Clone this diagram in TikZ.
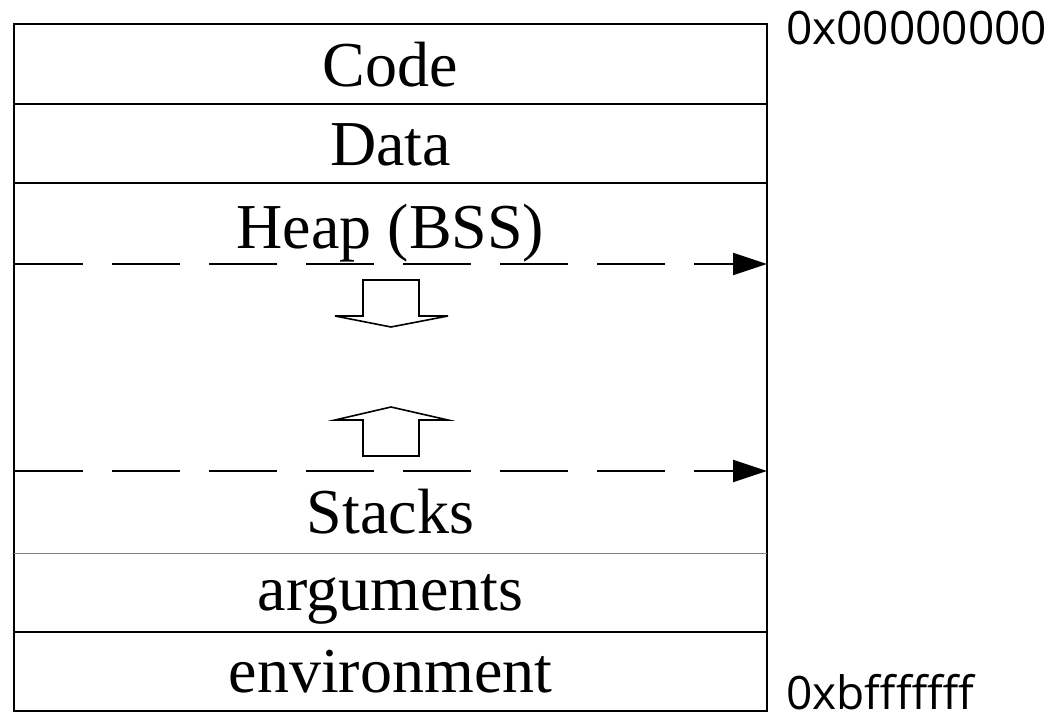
\documentclass[tikz,border=0pt]{standalone}
\usepackage{fontspec}
\setmainfont{Liberation Serif}
\newfontfamily\hexfont{Open Sans}
\usetikzlibrary{arrows.meta}
\begin{document}
\begin{tikzpicture}[x=1pt,y=-1pt,
  frame/.style={line width=2pt,draw=black},
  divider/.style={line width=2pt,draw=black},
  thindivider/.style={line width=1pt,draw=black!50},
  seg/.style={font=\fontsize{64}{72}\selectfont,anchor=base,inner sep=0pt},
  addr/.style={font=\hexfont\fontsize{46}{52}\selectfont,anchor=base west,inner sep=0pt},
  boundary/.style={line width=2pt,dash pattern=on 68pt off 29pt,dash phase=0pt},
  boundarytip/.style={line width=2pt,-{Triangle[length=34pt,width=22pt]}},
  growth/.style={line width=1.6pt,draw=black,fill=white,line join=miter}]
\useasboundingbox (0,0) rectangle (1054,722);

% memory layout frame and section dividers
\draw[frame] (14,24) rectangle (767,711);
\draw[divider] (14,104) -- (767,104);
\draw[divider] (14,183) -- (767,183);
\draw[thindivider] (14,553) -- (767,553);
\draw[divider] (14,632) -- (767,632);

% section names
\node[seg] (code)   at (390.5,87)  {Code};
\node[seg] (data)   at (390.5,166) {Data};
\node[seg] (heap)   at (390.5,248) {Heap (BSS)};
\node[seg] (stacks) at (390.5,533) {Stacks};
\node[seg] (args)   at (390.5,610) {arguments};
\node[seg] (env)    at (390.5,692) {environment};

% address range
\node[addr] (lo) at (786,45)  {0x00000000};
\node[addr] (hi) at (786,709) {0xbfffffff};

% heap top and stack top boundaries
\coordinate (heapL)  at (15,264);
\coordinate (heapM)  at (733,264);
\coordinate (heapR)  at (767,264);
\coordinate (stackL) at (15,471);
\coordinate (stackM) at (733,471);
\coordinate (stackR) at (767,471);
\draw[boundary] (heapL) -- (heapM);
\draw[boundarytip] (heapM) -- (heapR);
\draw[boundary] (stackL) -- (stackM);
\draw[boundarytip] (stackM) -- (stackR);

% growth directions
\draw[growth] (363,280) -- (363,316) -- (335,316) -- (391,327) -- (448,316)
  -- (419,316) -- (419,280) -- cycle;
\draw[growth] (363,456) -- (363,420) -- (335,420) -- (391,407) -- (448,420)
  -- (419,420) -- (419,456) -- cycle;
\end{tikzpicture}
\end{document}
